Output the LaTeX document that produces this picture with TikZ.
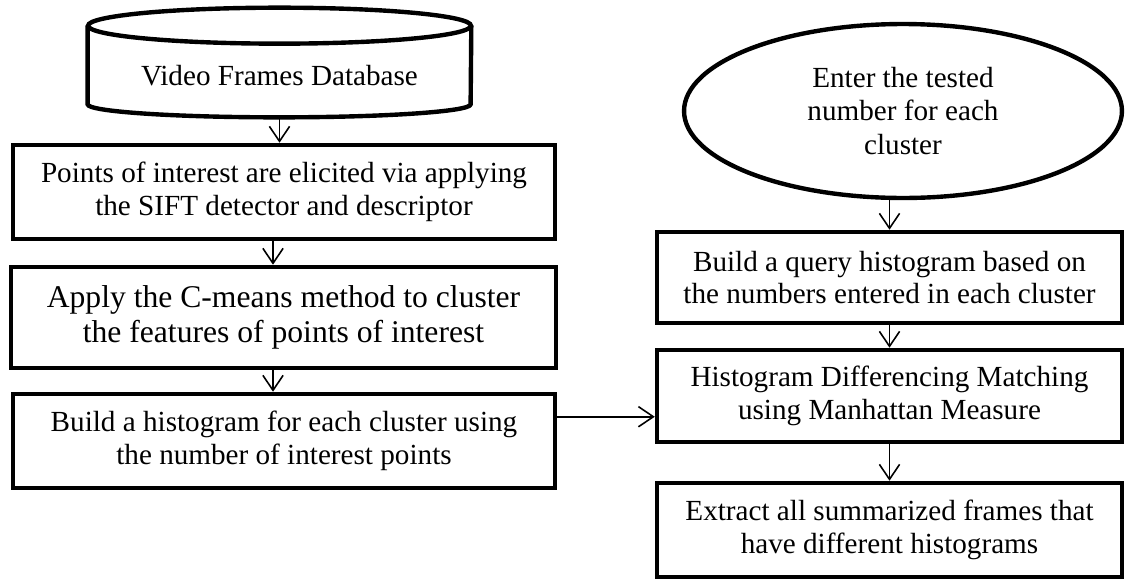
\documentclass[tikz,border=0pt]{standalone}
\usepackage{fontspec}
\setmainfont{Liberation Serif}
\usetikzlibrary{shapes.geometric,arrows.meta}
\begin{document}
\begin{tikzpicture}[x=0.02cm,y=0.02cm,
    box/.style={draw,line width=2.6pt,rectangle,align=center,font=\fontsize{16.6}{18.6}\selectfont},
    arr/.style={line width=0.9pt,-{Straight Barb[length=8.5pt,width=11.5pt,line width=0.9pt]}}]
    \useasboundingbox (0,0) rectangle (1126,-579);
    %% Database
    \node[align=center,minimum width=7.66cm,minimum height=1.56cm,text height=0.8cm,text depth=0cm,font=\fontsize{16.6}{18.6}\selectfont] (db) at (279.5,-65) {Video Frames Database};
    \draw[line width=2.5pt] (db.north west) -- (db.south west) arc[start angle=180,end angle=360,x radius=3.83cm,y radius=0.26cm] -- (db.north east);
    \draw[line width=2.5pt] (db.north) ellipse[x radius=3.83cm,y radius=0.36cm];
    \coordinate (dbfoot) at ([yshift=-0.26cm]db.south);
    %% Left column
    \node[box,minimum width=10.84cm,minimum height=1.88cm] (pts) at (284,-192) {Points of interest are elicited via applying\\the SIFT detector and descriptor};
    \node[box,minimum width=10.9cm,minimum height=2.02cm,font=\fontsize{18}{19.5}\selectfont] (cmeans) at (283.5,-317.5) {Apply the C-means method to cluster\\the features of points of interest};
    \node[box,minimum width=10.84cm,minimum height=1.88cm] (hist) at (284,-441) {Build a histogram for each cluster using\\the number of interest points};
    \coordinate (lane) at (273,0);
    %% Right column
    \node[draw,ellipse,line width=2.5pt,inner sep=0pt,minimum width=8.76cm,minimum height=3.48cm,align=center,font=\fontsize{16.6}{18.9}\selectfont] (ask) at (903,-111) {Enter the tested\\number for each\\cluster};
    \node[box,minimum width=9.3cm,minimum height=1.82cm] (query) at (889.5,-277.5) {Build a query histogram based on\\the numbers entered in each cluster};
    \node[box,minimum width=9.3cm,minimum height=1.84cm] (match) at (889.5,-396) {Histogram Differencing Matching\\using Manhattan Measure};
    \node[box,minimum width=9.3cm,minimum height=1.88cm] (extract) at (889.5,-530) {Extract all summarized frames that\\have different histograms};
    %% Arrows
    \draw[arr] (dbfoot) -- (dbfoot |- pts.north);
    \draw[arr] (pts.south -| lane) -- (cmeans.north -| lane);
    \draw[arr] (cmeans.south -| lane) -- (hist.north -| lane);
    \coordinate (tap) at ([yshift=-0.5cm]hist.north east);
    \draw[arr] (tap) -- (tap -| match.west);
    \draw[arr] (query.north |- ask.south) -- (query.north);
    \draw[arr] (query) -- (match);
    \draw[arr] (match) -- (extract);
\end{tikzpicture}
\end{document}
